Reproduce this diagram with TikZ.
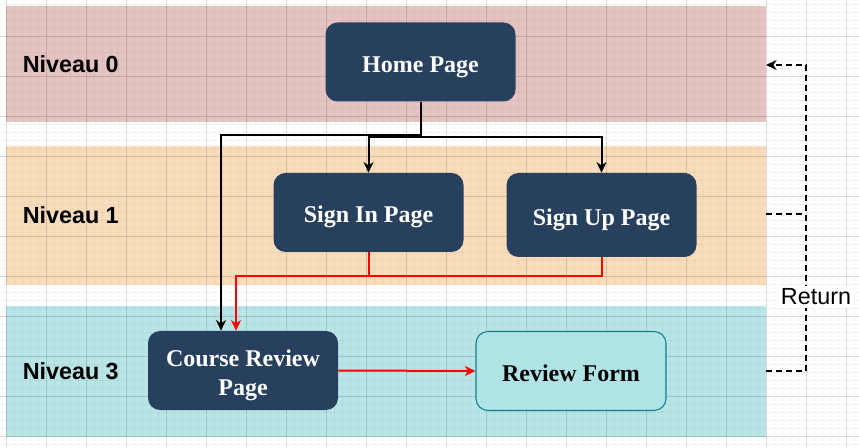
\documentclass[tikz,border=0pt]{standalone}
\usepackage{fontspec}
\setmainfont{Liberation Serif}
\setsansfont{Liberation Sans}
\usetikzlibrary{arrows.meta,calc,positioning}

\definecolor{bandred}{HTML}{E6C3C3}
\definecolor{bandorange}{HTML}{F9DDBB}
\definecolor{bandteal}{HTML}{B9E5E7}
\definecolor{pagedark}{HTML}{27405E}
\definecolor{formfill}{HTML}{B0E3E6}
\definecolor{formline}{HTML}{0E8088}

\newcommand{\pagetext}[1]{\raisebox{-3.5pt}[\height][\depth]{\begin{tabular}{@{}c@{}}#1\end{tabular}}}

\tikzset{
  page/.style = {rectangle, rounded corners=9pt, fill=pagedark, text=white,
    font=\fontsize{18}{21.75}\selectfont\bfseries,
    minimum width=142.5pt, minimum height=59.25pt, inner sep=0pt},
  level/.style = {font=\sffamily\bfseries\fontsize{17.5}{20}\selectfont, anchor=west, inner sep=0pt},
  blk/.style = {line width=1.5pt, -{Stealth[length=8pt,width=7.5pt,inset=2.5pt]}},
  redl/.style = {blk, red},
  ret/.style = {line width=1.2pt, dash pattern=on 4.5pt off 3pt}
}

\begin{document}
\begin{tikzpicture}[x=0.75pt,y=-0.75pt]
        \useasboundingbox (0,0) rectangle (859,448);
        \fill[white](0,0)rectangle(859,448);
        % bandes
        \fill[bandred](6,6)rectangle(766,122);
        \fill[bandorange](6,146)rectangle(766,285);
        \fill[bandteal](6,306)rectangle(766,437);
        % grille
        \foreach \i in {0,...,108}
        {
        \draw[black,opacity=0.04,line width=0.6pt]({\i*8-1.3},0)to({\i*8-1.3},448);
        }
        \foreach \i in {0,...,56}
        {
        \draw[black,opacity=0.04,line width=0.6pt](0,{\i*8+4.7})to(859,{\i*8+4.7});
        }
        \foreach \i in {0,...,21}
        {
        \draw[black,opacity=0.1,line width=0.6pt]({\i*40+6.7},0)to({\i*40+6.7},448);
        }
        \foreach \i in {1,...,11}
        {
        \draw[black,opacity=0.1,line width=0.6pt](0,{\i*40-3.3})to(859,{\i*40-3.3});
        }
        % niveaux
        \node[level](lvl0)at(22.5,64){Niveau 0};
        \node[level](lvl1)at(22.5,215){Niveau 1};
        \node[level](lvl3)at(22.5,371){Niveau 3};
        % pages
        \node[page](home)at(420.5,62){\pagetext{Home Page}};
        \node[page](signin)at(368.5,212.5){\pagetext{Sign In Page}};
        \node[page,minimum height=63pt](signup)at(601.5,215){\pagetext{Sign Up Page}};
        \node[page](course)at(243,370.5){\pagetext{Course Review\\Page}};
        \node[page,fill=formfill,draw=formline,line width=0.8pt,text=black](form)at(571,371){\pagetext{Review Form}};
        % liens
        \draw[blk](home.south)--++(0,35)-|(signin.north);
        \draw[blk](home.south)--++(0,35)-|(signup.north);
        \draw[blk](home.south)--++(0,33.5)-|($(course.north)+(-22,0)$);
        \draw[redl](signin.south)--++(0,23.5)-|($(course.north)+(-7,0)$);
        \draw[red,line width=1.5pt](signup.south)|-($(signin.south)+(0,23.5)$);
        \draw[redl](course.east)--(form.west);
        % retour
        \coordinate(r0)at(766,65);
        \coordinate(r1)at(766,214);
        \coordinate(r3)at(766,371);
        \coordinate(rtop)at(806,65);
        \draw[ret,-{Stealth[length=8pt,width=7.5pt,inset=2.5pt]}](r3)-|(rtop)--(r0);
        \draw[ret](r1)--(r1-|rtop);
        \node[fill=white,inner sep=2pt,font=\sffamily\fontsize{17.5}{20}\selectfont](ret)at(816,297){Return};
    \end{tikzpicture}
\end{document}
